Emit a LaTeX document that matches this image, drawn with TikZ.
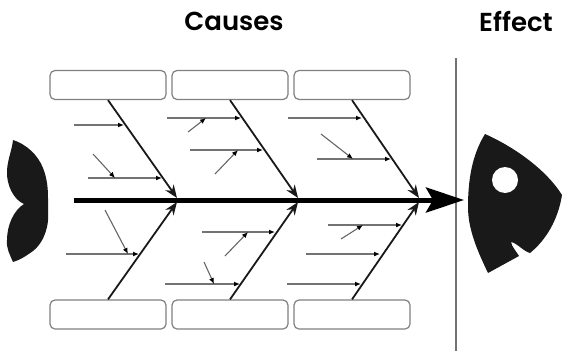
\documentclass[tikz,border=0pt]{standalone}
\usepackage{fontspec}
\setmainfont{Poppins}
\usepackage{tikz}
\usetikzlibrary{arrows.meta}

\tikzset{
  boxcause/.style={draw=black!50, line width=1.2pt, rounded corners=5pt, minimum width=116pt, minimum height=29pt, inner sep=0pt, fill=white},
  rib/.style={draw=black!90, line width=1.8pt, -{Stealth[length=13pt,width=10pt]}},
  branch/.style={draw=black!55, line width=1.3pt, -{Latex[length=6pt,width=5pt,black]}},
  twig/.style={draw=black!60, line width=1.1pt, -{Latex[length=6pt,width=5pt,black]}},
  heading/.style={font=\fontsize{26}{30}\selectfont\fontspec{Poppins SemiBold}, inner sep=0pt}
}

\begin{document}
\begin{tikzpicture}[x=1pt,y=-1pt]
\useasboundingbox (0,0) rectangle (562,351);

\node [heading] (causes) at (234,21) {Causes};
\node [heading] (effect) at (516,21) {Effect};

\node [boxcause] (box_1) at (108,85) {};
\node [boxcause] (box_2) at (230,85) {};
\node [boxcause] (box_3) at (352,85) {};
\node [boxcause] (box_4) at (108,314.5) {};
\node [boxcause] (box_5) at (230,314.5) {};
\node [boxcause] (box_6) at (352,314.5) {};

% divider
\coordinate (d_1) at (456,58);
\coordinate (d_2) at (456,351);
\draw [draw=black!55, line width=1.2pt] (d_1) -- (d_2);

% spine
\coordinate (s_1) at (74,200);
\coordinate (s_2) at (464,200);
\draw [line width=5pt, -{Stealth[length=38pt,width=25pt,inset=7pt]}] (s_1) -- (s_2);

% ribs
\coordinate (j_1) at (177,198);
\coordinate (j_2) at (298,198);
\coordinate (j_3) at (419,198);
\coordinate (j_4) at (177,202);
\coordinate (j_5) at (298,202);
\coordinate (j_6) at (419,202);
\draw [rib] (box_1.south) -- (j_1);
\draw [rib] (box_2.south) -- (j_2);
\draw [rib] (box_3.south) -- (j_3);
\draw [rib] (box_4.north) -- (j_4);
\draw [rib] (box_5.north) -- (j_5);
\draw [rib] (box_6.north) -- (j_6);

% branches
\coordinate (a_1) at (74,125);   \coordinate (a_2) at (124,125);  \draw [branch] (a_1) -- (a_2);
\coordinate (b_1) at (88,178);   \coordinate (b_2) at (162,178);  \draw [branch] (b_1) -- (b_2);
\coordinate (c_1) at (167,118);  \coordinate (c_2) at (241,118);  \draw [branch] (c_1) -- (c_2);
\coordinate (e_1) at (190,150);  \coordinate (e_2) at (263,150);  \draw [branch] (e_1) -- (e_2);
\coordinate (f_1) at (288,118);  \coordinate (f_2) at (362,118);  \draw [branch] (f_1) -- (f_2);
\coordinate (g_1) at (317,159);  \coordinate (g_2) at (391,159);  \draw [branch] (g_1) -- (g_2);
\coordinate (h_1) at (66,254);   \coordinate (h_2) at (139,254);  \draw [branch] (h_1) -- (h_2);
\coordinate (k_1) at (202,232);  \coordinate (k_2) at (275,232);  \draw [branch] (k_1) -- (k_2);
\coordinate (l_1) at (165,284);  \coordinate (l_2) at (240,284);  \draw [branch] (l_1) -- (l_2);
\coordinate (m_1) at (328,225);  \coordinate (m_2) at (402,225);  \draw [branch] (m_1) -- (m_2);
\coordinate (n_1) at (306,254);  \coordinate (n_2) at (380,254);  \draw [branch] (n_1) -- (n_2);
\coordinate (o_1) at (287,284);  \coordinate (o_2) at (361,284);  \draw [branch] (o_1) -- (o_2);

% twigs
\coordinate (p_1) at (93,154);   \coordinate (p_2) at (115,178);  \draw [twig] (p_1) -- (p_2);
\coordinate (q_1) at (188,132);  \coordinate (q_2) at (206,118);  \draw [twig] (q_1) -- (q_2);
\coordinate (r_1) at (215,174);  \coordinate (r_2) at (238,150);  \draw [twig] (r_1) -- (r_2);
\coordinate (t_1) at (321,134);  \coordinate (t_2) at (353,159);  \draw [twig] (t_1) -- (t_2);
\coordinate (u_1) at (105,210);  \coordinate (u_2) at (128,254);  \draw [twig] (u_1) -- (u_2);
\coordinate (v_1) at (225,256);  \coordinate (v_2) at (248,232);  \draw [twig] (v_1) -- (v_2);
\coordinate (w_1) at (204,262);  \coordinate (w_2) at (214,284);  \draw [twig] (w_1) -- (w_2);
\coordinate (y_1) at (341,239);  \coordinate (y_2) at (363,225);  \draw [twig] (y_1) -- (y_2);

% tail
\fill [black!90] (13,140) .. controls (26,144) and (38,155) .. (43,168)
  .. controls (47,178) and (48,188) .. (48,198)
  .. controls (48,210) and (49,218) .. (47,227)
  .. controls (44,240) and (38,247) .. (33,251)
  .. controls (26,256) and (20,260) .. (13,262)
  .. controls (10,255) and (6,248) .. (7,240)
  .. controls (7,225) and (14,210) .. (24,204)
  .. controls (14,200) and (6,185) .. (7,170)
  .. controls (8,158) and (12,150) .. (13,140) -- cycle;

% head
\fill [black!90] (485,134) .. controls (512,146) and (545,168) .. (562,195)
  .. controls (558,220) and (546,240) .. (530,253)
  .. controls (523,251) and (517,243) .. (511,242)
  .. controls (512,247) and (516,251) .. (519,256)
  -- (488,273)
  .. controls (478,252) and (468,230) .. (468,207)
  .. controls (468,180) and (472,155) .. (485,134) -- cycle;
\fill [white] (505,180) circle (13pt);
\end{tikzpicture}
\end{document}
